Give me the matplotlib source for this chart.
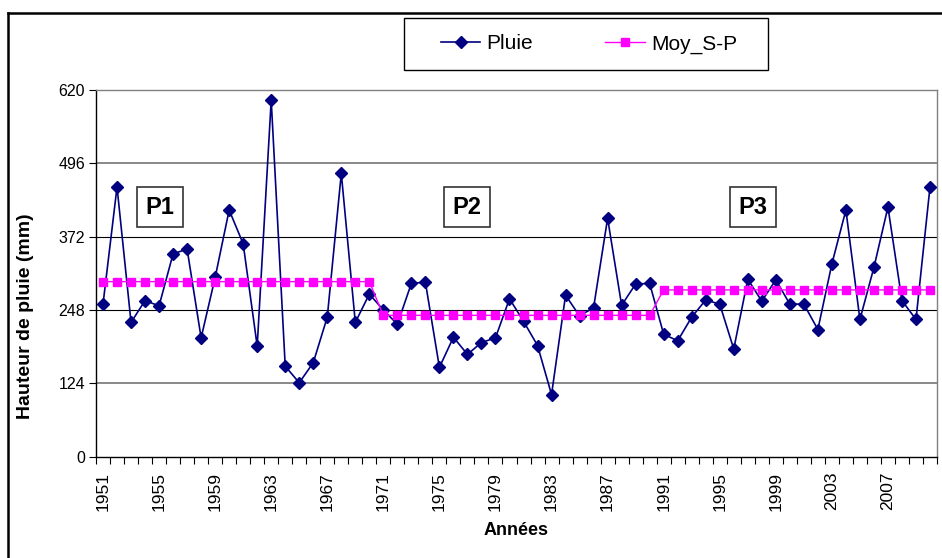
import matplotlib
matplotlib.use("Agg")
import matplotlib.pyplot as plt
from matplotlib.lines import Line2D
from matplotlib.patches import Rectangle
import numpy as np

years = list(range(1951, 2011))
pluie = [258, 456, 227, 264, 255, 343, 351, 201, 303, 417,
         360, 187, 603, 153, 125, 159, 236, 479, 227, 275,
         248, 224, 293, 295, 151, 202, 173, 193, 201, 267,
         229, 188, 105, 273, 238, 252, 403, 256, 292, 293,
         207, 196, 236, 265, 258, 182, 300, 263, 299, 258,
         258, 215, 326, 417, 232, 320, 422, 264, 232, 456]
moy = [296] * 20 + [239] * 20 + [282] * 20
periods = ["P1", "P2", "P3"]
period_pos = [4.07, 25.98, 46.36]
yticks = [0, 124, 248, 372, 496, 620]
label_years = [str(y) for y in years[::4] if y <= 2007]

plt.rcParams['font.family'] = ['Liberation Sans', 'DejaVu Sans']

W, H = 942, 558
fig = plt.figure(figsize=(W / 100, H / 100), dpi=100)
L, R, T, B = 96, 937, 90, 456.7
ax = fig.add_axes([L / W, 1 - B / H, (R - L) / W, (B - T) / H])

x = np.arange(len(years))
ax.set_xlim(-0.5, len(years) - 0.5)
ax.set_ylim(0, 620)

# gridlines
for yv in yticks[1:]:
    col = '#000000' if yv in (248, 372) else '#808080'
    lw = 0.8 if yv in (248, 372) else 1.3
    ax.axhline(yv, color=col, lw=lw, zorder=1)

ax.plot(x, pluie, color='#000080', lw=1.2, marker='D', markersize=6.5,
        markerfacecolor='#000080', markeredgecolor='#000080', label='Pluie', zorder=3)
ax.plot(x, moy, color='#FF00FF', lw=1.0, marker='s', markersize=6.4,
        markerfacecolor='#FF00FF', markeredgecolor='#FF00FF', label='Moy_S-P', zorder=4)

# spines
ax.spines['left'].set_color('black')
ax.spines['bottom'].set_color('black')
ax.spines['right'].set_color('#808080')
ax.spines['top'].set_color('#808080')
for s in ax.spines.values():
    s.set_linewidth(1.0)

ax.set_yticks(yticks)
ax.set_yticklabels([str(v) for v in yticks], fontsize=11.5)
ax.tick_params(axis='y', direction='out', length=5, width=0.8, pad=3)

ax.set_xticks(x[::4][:len(label_years)])
ax.set_xticklabels(label_years, rotation=90, fontsize=12.5)
ax.set_xticks(np.arange(-0.5, len(years) + 0.5, 1), minor=True)
ax.tick_params(axis='x', which='major', length=0, pad=11)
ax.tick_params(axis='x', which='minor', direction='out', length=5, width=0.8)

ax.set_ylabel('Hauteur de pluie (mm)', fontsize=14, fontweight='bold')
ax.yaxis.set_label_coords((26 - L) / (R - L), (B - 316) / (B - T))
ax.yaxis.label.set_va('center')
ax.set_xlabel('Années', fontsize=13, fontweight='bold')
ax.xaxis.set_label_coords(0.5, (B - 522) / (B - T))
ax.xaxis.label.set_va('top')

for p, px in zip(periods, period_pos):
    ax.text(px, 422, p, fontsize=17, fontweight='bold', ha='center', va='center',
            bbox=dict(boxstyle='square,pad=0.35', facecolor='white',
                      edgecolor='#333333', linewidth=1.2), zorder=5)

leg = fig.legend(handles=ax.get_lines()[-2:], labels=['Pluie', 'Moy_S-P'],
                 loc='center', bbox_to_anchor=(589 / W, 1 - 44 / H), ncol=2,
                 fontsize=15, frameon=False, handlelength=1.9,
                 handletextpad=0.3, columnspacing=3.45, borderpad=0.6)

# legend frame
fig.add_artist(Rectangle((404 / W, 1 - 70 / H), (768 - 404) / W, (70 - 18) / H,
                         transform=fig.transFigure, facecolor='none',
                         edgecolor='black', linewidth=1.0))

# outer chart border
fig.add_artist(Line2D([8 / W, 1.0], [1 - 13 / H, 1 - 13 / H], color='black', lw=1.8,
                      transform=fig.transFigure))
fig.add_artist(Line2D([8 / W, 8 / W], [0, 1 - 13 / H], color='black', lw=1.8,
                      transform=fig.transFigure))

fig.savefig('out.png', dpi=100)
